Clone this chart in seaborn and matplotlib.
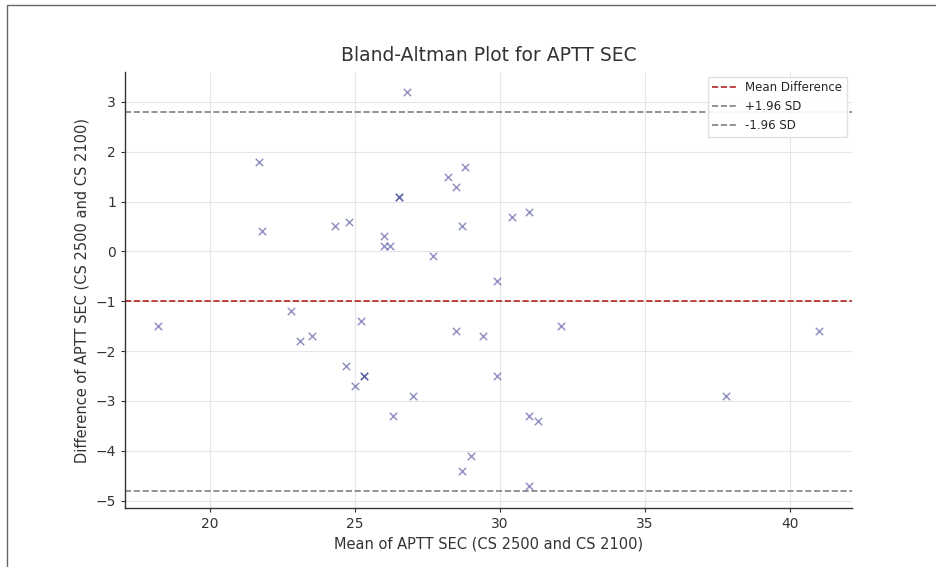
import matplotlib
matplotlib.use("Agg")
import matplotlib.pyplot as plt
import seaborn as sns
import pandas as pd
from matplotlib.patches import Rectangle

# Values
mean_aptt = [26.8, 21.7, 21.8, 26.5, 26.5, 24.3, 24.8, 26.0, 26.0, 26.2,
             27.7, 28.2, 28.5, 28.8, 28.7, 30.4, 31.0, 29.9, 18.2, 22.8,
             23.1, 23.5, 25.2, 24.7, 25.3, 25.3, 25.0, 27.0, 26.3, 28.5,
             29.0, 28.7, 29.4, 32.1, 41.0, 29.9, 37.8, 31.0, 31.3, 31.0]
diff_aptt = [3.2, 1.8, 0.4, 1.1, 1.1, 0.5, 0.6, 0.3, 0.1, 0.1,
             -0.1, 1.5, 1.3, 1.7, 0.5, 0.7, 0.8, -0.6, -1.5, -1.2,
             -1.8, -1.7, -1.4, -2.3, -2.5, -2.5, -2.7, -2.9, -3.3, -1.6,
             -4.1, -4.4, -1.7, -1.5, -1.6, -2.5, -2.9, -3.3, -3.4, -4.7]
mean_diff = -1.0
upper_limit = 2.8
lower_limit = -4.8

df = pd.DataFrame({'Mean': mean_aptt, 'Diff': diff_aptt})

sns.set_style("whitegrid", {'grid.color': '#e6e6e6'})
plt.rcParams['font.family'] = ['DejaVu Sans']

fig = plt.figure(figsize=(9.36, 5.67), dpi=100)
ax = fig.add_axes([0.1335, 0.104, 0.7765, 0.769])

sns.scatterplot(data=df, x='Mean', y='Diff', marker='x', color='#2a2a88',
                alpha=0.5, s=28, linewidth=1.1, ax=ax)
ax.axhline(mean_diff, color='#b22222', linestyle='--', linewidth=1.2, label='Mean Difference')
ax.axhline(upper_limit, color='gray', linestyle='--', linewidth=1.2, label='+1.96 SD')
ax.axhline(lower_limit, color='gray', linestyle='--', linewidth=1.2, label='-1.96 SD')

ax.set_title('Bland-Altman Plot for APTT SEC', fontsize=13.5, color='#333333', pad=8)
ax.set_xlabel('Mean of APTT SEC (CS 2500 and CS 2100)', fontsize=10.5, color='#333333')
ax.set_ylabel('Difference of APTT SEC (CS 2500 and CS 2100)', fontsize=10.5, color='#333333')
ax.tick_params(axis='both', labelsize=10, colors='#333333', length=3, left=True, bottom=True)
ax.set_xticks([20, 25, 30, 35, 40])
ax.set_yticks([-5, -4, -3, -2, -1, 0, 1, 2, 3])
ax.set_ylim(-5.15, 3.6)

sns.despine(ax=ax)
for side in ['left', 'bottom']:
    ax.spines[side].set_color('#333333')
    ax.spines[side].set_linewidth(1.0)

ax.legend(loc='upper right', fontsize=8.5, frameon=True, framealpha=0.9,
          edgecolor='#dddddd', fancybox=False, borderaxespad=0.4)

# thin frame left over from the screenshot
fig.patches.append(Rectangle((7 / 936, -0.1), 1.2, 1.1 - 5 / 567, transform=fig.transFigure,
                             fill=False, edgecolor='#666666', linewidth=1.0))

fig.savefig('out.png', dpi=100)
